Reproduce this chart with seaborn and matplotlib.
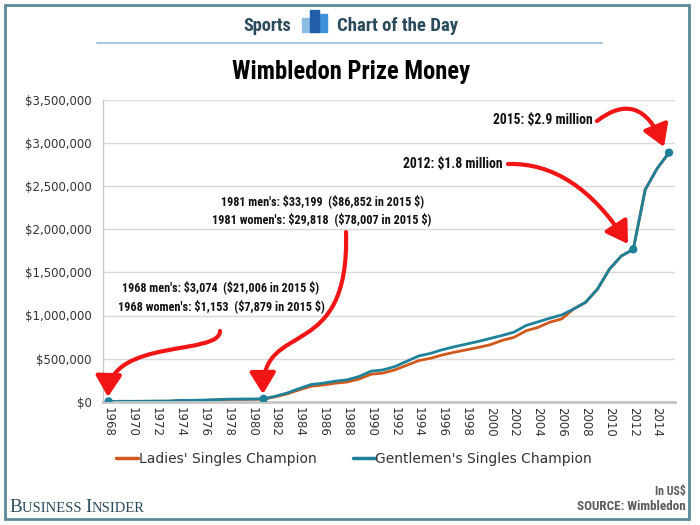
import pandas as pd
import seaborn as sns
import matplotlib.pyplot as plt
from matplotlib import font_manager as fm
from matplotlib.patches import Rectangle, FancyArrowPatch
from matplotlib.path import Path
from matplotlib.lines import Line2D
from matplotlib.offsetbox import TextArea, HPacker, AnnotationBbox
from matplotlib.ticker import FuncFormatter

# prize money in US$
years = list(range(1968, 2016))
mens = [3074, 4611, 4611, 5764, 7685, 7685, 15370, 15370, 19213, 23055,
        29203, 30740, 30740, 33199, 64042, 102364, 153700, 199810, 215180, 238235,
        253605, 292030, 353510, 368880, 407305, 468785, 530265, 561005, 603273, 637855,
        668595, 699335, 733918, 768500, 806925, 883775, 926043, 968310, 1006735, 1075900,
        1152750, 1306450, 1537000, 1690700, 1767550, 2459200, 2705120, 2889560]
ladies = [1153, 2306, 2306, 2767, 4611, 4611, 10759, 10759, 15370, 20750,
          26283, 27666, 27666, 29818, 57638, 92220, 138330, 179829, 193662, 214412,
          228245, 262827, 318159, 331992, 368880, 422675, 476470, 504136, 542561, 574070,
          601736, 629402, 660910, 710863, 746982, 822295, 861489, 922200, 960625, 1075900,
          1152750, 1306450, 1537000, 1690700, 1767550, 2459200, 2705120, 2889560]
marked_years = [1968, 1981, 2012, 2015]
series_names = ["Ladies' Singles Champion", "Gentlemen's Singles Champion"]
y_ticks = [0, 500000, 1000000, 1500000, 2000000, 2500000, 3000000, 3500000]
x_ticks = list(range(1968, 2015, 2))

orange = '#D0581A'
teal = '#1D8299'
red = '#F21515'
navy = '#2B4A5C'

df = pd.DataFrame({
    'year': years * 2,
    'prize': ladies + mens,
    'series': [series_names[0]] * len(years) + [series_names[1]] * len(years),
})

sns.set_theme(style='white')
avail = {f.name for f in fm.fontManager.ttflist}
narrow = next((f for f in ['Roboto Condensed', 'Liberation Sans Narrow', 'Arial Narrow',
                           'Roboto', 'Liberation Sans'] if f in avail), 'DejaVu Sans')
plt.rcParams['font.family'] = ['DejaVu Sans']

W, H = 700, 525
def fx(px):
    return px / W
def fy(py):
    return 1 - py / H

fig = plt.figure(figsize=(7, 5.25), dpi=100)
ax = fig.add_axes([fx(102.7), fy(401.7), (675 - 102.7) / W, (401.7 - 100) / H])
renderer = fig.canvas.get_renderer()

def fit_text(x, y, s, width, **kw):
    # size the text so that it spans the same number of pixels as in the reference
    t = fig.text(fx(x), fy(y), s, **kw)
    w = t.get_window_extent(renderer=renderer).width
    t.set_fontsize(t.get_fontsize() * width / w)
    return t

sns.lineplot(data=df, x='year', y='prize', hue='series', hue_order=series_names,
             palette=[orange, teal], linewidth=2.0, ax=ax, legend=False)
marks = df[(df['series'] == series_names[1]) & df['year'].isin(marked_years)]
sns.scatterplot(data=marks, x='year', y='prize', color=teal, s=36, edgecolor='none',
                ax=ax, zorder=5, legend=False)

ax.set_xlim(1967.5, 2015.5)
ax.set_ylim(0, 3500000)
ax.set_xticks(x_ticks)
ax.set_yticks(y_ticks)
ax.yaxis.set_major_formatter(FuncFormatter(lambda v, p: f'${v:,.0f}'))
ax.tick_params(axis='x', length=0, pad=4, labelsize=8.5, labelcolor='#333333', labelrotation=-90)
ax.tick_params(axis='y', length=0, pad=8, labelsize=8.5, labelcolor='#333333')
ax.set_xlabel('')
ax.set_ylabel('')
ax.grid(axis='y', color='#D9D9D9', linewidth=1)
ax.set_axisbelow(True)
for s in ['top', 'right']:
    ax.spines[s].set_visible(False)
ax.spines['left'].set_color('#C8C8C8')
ax.spines['left'].set_linewidth(1)
ax.spines['bottom'].set_color('#C4C4C4')
ax.spines['bottom'].set_linewidth(2)

# legend under the axis
handles = [Line2D([], [], color=orange, linewidth=2.5), Line2D([], [], color=teal, linewidth=2.5)]
fig.legend(handles, series_names, loc='center', bbox_to_anchor=(fx(354), fy(459)), ncol=2,
           frameon=False, fontsize=10, handlelength=1.6, handletextpad=0.05, columnspacing=2.6,
           labelcolor='#333333')

# header
head = dict(va='center', fontsize=13, fontweight='bold', family=narrow, color=navy)
fit_text(291, 26, 'Sports', 48, ha='right', **head)
fit_text(337, 26, 'Chart of the Day', 121, ha='left', **head)
for x0, x1, top, c in [(302, 312, 18, '#8CBBE3'), (319, 327, 14, '#3E93D8'), (310, 319, 10, '#235FA8')]:
    fig.patches.append(Rectangle((fx(x0), fy(32)), (x1 - x0) / W, (32 - top) / H,
                                 transform=fig.transFigure, color=c, zorder=3))
fig.add_artist(Line2D([fx(97), fx(602)], [fy(43), fy(43)], color='#A9C7E2', linewidth=1.5))
fit_text(351, 72, 'Wimbledon Prize Money', 238, ha='center', va='center', fontsize=18,
         fontweight='bold', family=narrow, color='black')

# annotations
ann = dict(ha='center', va='center', fontsize=9, fontweight='bold', family=narrow, color='#111111')
fit_text(221, 287, "1968 men's: $3,074  ($21,006 in 2015 $)", 196, **ann)
fit_text(221, 306, "1968 women's: $1,153  ($7,879 in 2015 $)", 205, **ann)
fit_text(323, 201, "1981 men's: $33,199  ($86,852 in 2015 $)", 202, **ann)
fit_text(322, 219, "1981 women's: $29,818  ($78,007 in 2015 $)", 218, **ann)
big = dict(va='center', fontsize=10.5, fontweight='bold', family=narrow, color='#111111')
fit_text(503, 164, '2012: $1.8 million', 100, ha='right', **big)
fit_text(593, 120, '2015: $2.9 million', 100, ha='right', **big)

def arrow(pts, codes):
    path = Path([(fx(a), fy(b)) for a, b in pts], codes)
    fig.patches.append(FancyArrowPatch(path=path, transform=fig.transFigure, color=red,
                                       arrowstyle='-|>,head_length=0.65,head_width=0.4',
                                       mutation_scale=20, linewidth=3.0, shrinkA=0, shrinkB=0,
                                       zorder=6))

C4 = [Path.MOVETO, Path.CURVE4, Path.CURVE4, Path.CURVE4]
C3 = [Path.MOVETO, Path.CURVE3, Path.CURVE3]
arrow([(220, 331), (220, 356), (110, 338), (108, 397)], C4)
arrow([(346, 232), (350, 365), (262, 318), (263, 394)], C4)
arrow([(508, 164), (575, 162), (628, 244)], C3)
arrow([(597, 121), (640, 88), (664, 147)], C3)

# footer
parts = [TextArea(t, textprops=dict(family='Liberation Serif', fontsize=sz, color=navy))
         for t, sz in [('B', 13.8), ('USINESS ', 10.5), ('I', 13.8), ('NSIDER', 10.5)]]
box = HPacker(children=parts, align='baseline', pad=0, sep=0)
fig.add_artist(AnnotationBbox(box, (fx(9), fy(507)), xycoords='figure fraction',
                              box_alignment=(0, 0.5), frameon=False))
foot = dict(ha='right', va='center', fontsize=9, fontweight='bold', family=narrow, color='#5A5A5A')
fit_text(686, 491, 'In US$', 31, **foot)
fit_text(686, 507, 'SOURCE: Wimbledon', 109, **foot)

# outer frame
fig.patches.append(Rectangle((fx(5), fy(519)), 684 / W, 514 / H, transform=fig.transFigure,
                             fill=False, edgecolor='#5C8898', linewidth=2))

fig.savefig('out.png', dpi=100)
